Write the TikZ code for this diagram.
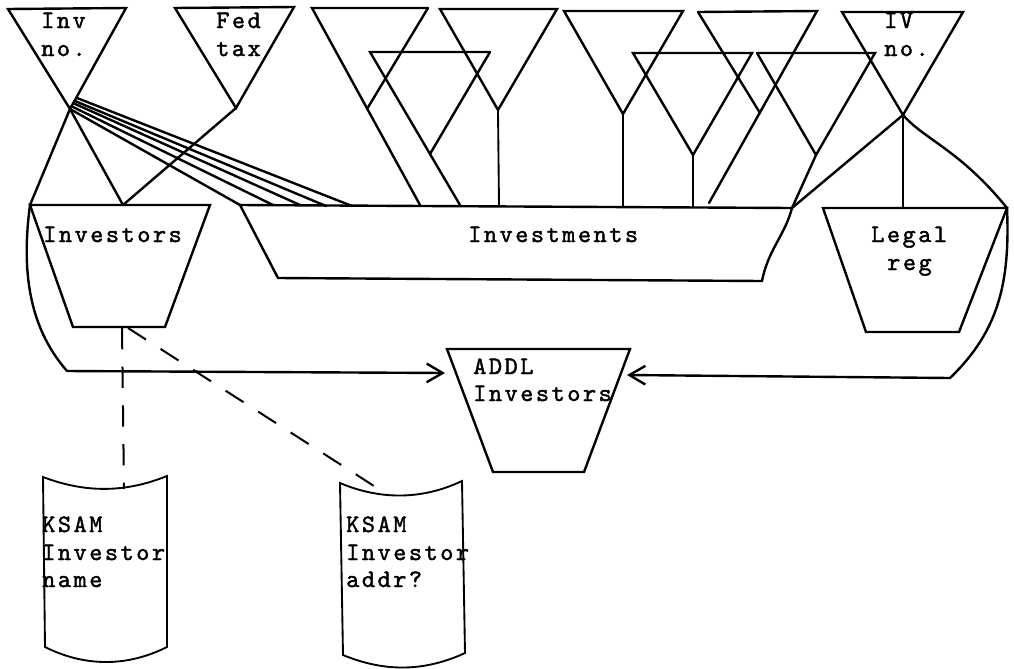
\documentclass[tikz,border=0pt]{standalone}
\usepackage{fontspec}
\newfontfamily\tw[Extension=.otf, LetterSpace=10, FakeBold=1.6]{lmmono10-regular}
\usetikzlibrary{arrows.meta}
\begin{document}
\begin{tikzpicture}[x=0.75pt,y=-0.75pt,
  ln/.style={line width=1.8pt, line join=miter, line cap=round},
  thin ln/.style={line width=1.4pt, line cap=round},
  dsh/.style={line width=1.5pt, dash pattern=on 16pt off 13pt},
  arr/.style={ln, -{Straight Barb[length=12pt,width=14pt,line width=1.8pt]}},
  lbl/.style={font=\tw\fontsize{18.8pt}{20.6pt}\selectfont, inner sep=0pt, anchor=base west}]
\useasboundingbox (0,0) rectangle (1014,668);

% ---------- data-item triangles (top edge, apex) ----------
\coordinate (t1l) at (8,9);     \coordinate (t1r) at (126,8);   \coordinate (t1a) at (70,109);
\coordinate (t2l) at (175,8);   \coordinate (t2r) at (294,7);   \coordinate (t2a) at (236,108);
\coordinate (t3l) at (312,8);   \coordinate (t3r) at (428,8);   \coordinate (t3a) at (367,109);
\coordinate (t4l) at (370,52);  \coordinate (t4r) at (490,52);  \coordinate (t4a) at (430,154);
\coordinate (t5l) at (440,9);   \coordinate (t5r) at (557,9);   \coordinate (t5a) at (498,110);
\coordinate (t6l) at (564,11);  \coordinate (t6r) at (683,11);  \coordinate (t6a) at (623,114);
\coordinate (t7l) at (633,53);  \coordinate (t7r) at (752,53);  \coordinate (t7a) at (693,155);
\coordinate (t8l) at (698,12);  \coordinate (t8r) at (817,11);  \coordinate (t8a) at (760,113);
\coordinate (t9l) at (757,53);  \coordinate (t9r) at (875,53);  \coordinate (t9a) at (816,155);
\coordinate (t10l) at (842,12); \coordinate (t10r) at (963,12); \coordinate (t10a) at (903,115);

% ---------- record boxes ----------
% Investors
\coordinate (is1) at (30,205);  \coordinate (is2) at (210,205);
\coordinate (is3) at (165,327); \coordinate (is4) at (73,327);
\coordinate (ij) at (123,205);
% Investments
\coordinate (iv1) at (240,205); \coordinate (iv2) at (792,208);
\coordinate (iv3) at (762,281); \coordinate (iv4) at (278,278);
% Legal reg
\coordinate (lg1) at (823,208); \coordinate (lg2) at (1007,208);
\coordinate (lg3) at (959,332); \coordinate (lg4) at (866,332);
\coordinate (lgm) at (903,208);
% ADDL Investors
\coordinate (ad1) at (447,349); \coordinate (ad2) at (630,349);
\coordinate (ad3) at (584,472); \coordinate (ad4) at (493,472);
\coordinate (adL) at (445,373); \coordinate (adR) at (627,375);

% feet of the lines that land on the Investments record
\coordinate (t3e) at (420,205); \coordinate (t4e) at (460,205);
\coordinate (t5e) at (499,206); \coordinate (t6e) at (623,206);
\coordinate (t7e) at (693,207); \coordinate (t8e) at (709,203);
\coordinate (f2) at (273,205);  \coordinate (f3) at (300,205);
\coordinate (f4) at (326,206);  \coordinate (f5) at (352,206);
\coordinate (s2) at (71,106);   \coordinate (s3) at (73,103);
\coordinate (s4) at (75,101);   \coordinate (s5) at (77,98);

% loop points of the two links to ADDL Investors
\coordinate (c1) at (67,371);   \coordinate (c2) at (950,378);

% KSAM drums
\coordinate (da1) at (43,477);  \coordinate (da2) at (167,476);
\coordinate (da3) at (167,647); \coordinate (da4) at (45,647);
\coordinate (dat) at (124,489);
\coordinate (db1) at (340,483); \coordinate (db2) at (462,481);
\coordinate (db3) at (465,653); \coordinate (db4) at (343,655);
\coordinate (dbt) at (388,495);
\coordinate (ib1) at (122,328); \coordinate (ib2) at (128,328);

% ---------- triangles ----------
\draw[ln] (t1l) -- (t1r) -- (t1a) -- cycle;
\draw[ln] (t2l) -- (t2r) -- (t2a) -- cycle;
\draw[ln] (t3r) -- (t3l) -- (t3e);
\draw[ln] (t3r) -- (t3a);
\draw[ln] (t4r) -- (t4l) -- (t4e);
\draw[ln] (t4r) -- (t4a);
\draw[ln] (t5l) -- (t5r) -- (t5a) -- cycle;
\draw[thin ln] (t5a) -- (t5e);
\draw[ln] (t6l) -- (t6r) -- (t6a) -- cycle;
\draw[thin ln] (t6a) -- (t6e);
\draw[ln] (t7l) -- (t7r) -- (t7a) -- cycle;
\draw[thin ln] (t7a) -- (t7e);
\draw[ln] (t8l) -- (t8r) -- (t8e);
\draw[ln] (t8l) -- (t8a);
\draw[ln] (t9l) -- (t9r) -- (t9a) -- (iv2);
\draw[ln] (t9l) -- (t9a);
\draw[ln] (t10l) -- (t10r) -- (t10a) -- cycle;

% ---------- records ----------
\draw[ln] (is1) -- (is2) -- (is3) -- (is4) -- cycle;
\draw[ln] (iv1) -- (iv2) .. controls (785,235) and (768,250) .. (iv3) -- (iv4) -- cycle;
\draw[ln] (lg1) -- (lg2) -- (lg3) -- (lg4) -- cycle;
\draw[ln] (ad1) -- (ad2) -- (ad3) -- (ad4) -- cycle;

% ---------- links ----------
\draw[ln] (t1a) -- (is1);
\draw[ln] (t1a) -- (ij);
\draw[ln] (t2a) -- (ij);
\draw[ln] (t1a) -- (iv1);
\draw[ln] (s2) -- (f2);
\draw[ln] (s3) -- (f3);
\draw[ln] (s4) -- (f4);
\draw[ln] (s5) -- (f5);
\draw[ln] (t10a) -- (iv2);
\draw[thin ln] (t10a) -- (lgm);
\draw[ln] (t10a) .. controls (925,140) and (960,150) .. (lg2);

\draw[ln] (is1) .. controls (20,280) and (33,332) .. (c1);
\draw[arr] (c1) -- (adL);
\draw[ln] (lg2) .. controls (1010,280) and (1000,330) .. (c2);
\draw[arr] (c2) -- (adR);

% ---------- KSAM files ----------
\draw[thin ln] (da1) .. controls (85,493) and (125,493) .. (da2) -- (da3)
   .. controls (127,667) and (85,667) .. (da4) -- cycle;
\draw[thin ln] (db1) .. controls (380,500) and (422,500) .. (db2) -- (db3)
   .. controls (424,672) and (384,672) .. (db4) -- cycle;
\draw[dsh] (ib1) -- (dat);
\draw[dsh] (ib2) -- (dbt);

% ---------- labels ----------
\node[lbl] (invnoA) at (41,28) {Inv};
\node[lbl] (invnoB) at (41,56) {no.};
\node[lbl] (fedA) at (216,28) {Fed};
\node[lbl] (fedB) at (216,56) {tax};
\node[lbl] (ivnoA) at (884,28) {IV};
\node[lbl] (ivnoB) at (884,56) {no.};
\node[lbl] (investors) at (43,242) {Investors};
\node[lbl] (investments) at (468,242) {Investments};
\node[lbl] (legalA) at (871,242) {Legal};
\node[lbl] (legalB) at (887,270) {reg};
\node[lbl] (addlA) at (473,374) {ADDL};
\node[lbl] (addlB) at (473,401) {Investors};
\node[lbl] (kaA) at (42,532) {KSAM};
\node[lbl] (kaB) at (42,560) {Investor};
\node[lbl] (kaC) at (42,587) {name};
\node[lbl] (kbA) at (346,532) {KSAM};
\node[lbl] (kbB) at (346,560) {Investor};
\node[lbl] (kbC) at (346,587) {addr?};
\end{tikzpicture}
\end{document}
